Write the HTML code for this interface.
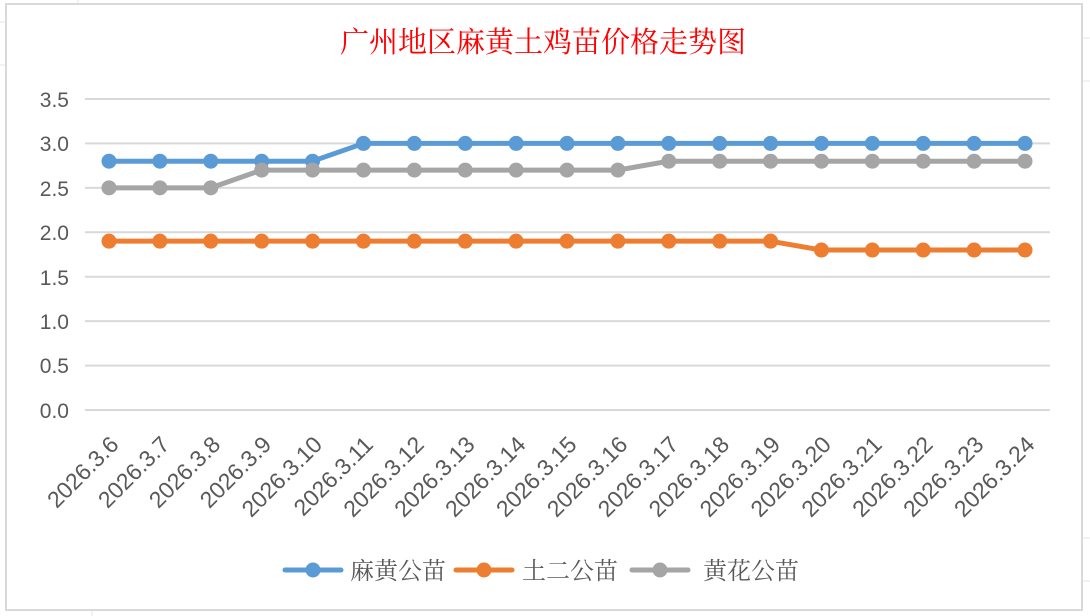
<!DOCTYPE html>
<html><head><meta charset="utf-8"><style>
html,body{margin:0;padding:0;background:#fff;}
svg{display:block;}
</style></head><body>
<svg width="1090" height="616" xmlns="http://www.w3.org/2000/svg">
<rect x="0" y="0" width="1090" height="616" fill="#fff"/>
<g stroke="#e4e4e4" stroke-width="1">
<line x1="0" y1="22" x2="6" y2="22"/><line x1="0" y1="65" x2="6" y2="65"/>
<line x1="78" y1="0" x2="78" y2="4"/><line x1="1082" y1="38" x2="1090" y2="38"/><line x1="1082" y1="81" x2="1090" y2="81"/>
<line x1="92" y1="610" x2="92" y2="616"/><line x1="1082" y1="538" x2="1090" y2="538"/><line x1="1082" y1="581" x2="1090" y2="581"/>
</g>
<rect x="6" y="4" width="1076" height="606" fill="#fff" stroke="#d9d9d9" stroke-width="2"/>
<text x="543" y="52" text-anchor="middle" font-family="Liberation Serif, 'Noto Serif CJK SC', serif" font-size="29" fill="#ff0000">广州地区麻黄土鸡苗价格走势图</text>
<g stroke="#d9d9d9" stroke-width="2">
<line x1="85" y1="99" x2="1050" y2="99"/>
<line x1="85" y1="143.4" x2="1050" y2="143.4"/>
<line x1="85" y1="187.9" x2="1050" y2="187.9"/>
<line x1="85" y1="232.3" x2="1050" y2="232.3"/>
<line x1="85" y1="276.7" x2="1050" y2="276.7"/>
<line x1="85" y1="321.1" x2="1050" y2="321.1"/>
<line x1="85" y1="365.6" x2="1050" y2="365.6"/>
<line x1="85" y1="410" x2="1050" y2="410"/>
</g>
<g font-family="Liberation Sans, sans-serif" font-size="21" fill="#595959" text-anchor="end">
<text x="69" y="107">3.5</text><text x="69" y="151">3.0</text><text x="69" y="196">2.5</text>
<text x="69" y="240">2.0</text><text x="69" y="285">1.5</text><text x="69" y="329">1.0</text>
<text x="69" y="373">0.5</text><text x="69" y="418">0.0</text>
</g>
<g id="labels" font-family="Liberation Sans, sans-serif" font-size="23" fill="#595959" text-anchor="end"></g>
<g id="series"></g>
<g>
<line x1="285" y1="570" x2="341" y2="570" stroke="#5b9bd5" stroke-width="5" stroke-linecap="round"/>
<circle cx="313" cy="570" r="7.5" fill="#5b9bd5"/>
<line x1="456" y1="570" x2="512" y2="570" stroke="#ed7d31" stroke-width="5" stroke-linecap="round"/>
<circle cx="484" cy="570" r="7.5" fill="#ed7d31"/>
<line x1="632" y1="570" x2="688" y2="570" stroke="#a5a5a5" stroke-width="5" stroke-linecap="round"/>
<circle cx="660" cy="570" r="7.5" fill="#a5a5a5"/>
<g font-family="Liberation Serif, 'Noto Serif CJK SC', serif" font-size="24" fill="#595959">
<text x="350" y="579">麻黄公苗</text><text x="522" y="579">土二公苗</text><text x="703" y="579">黄花公苗</text>
</g>
</g>
<script>
var ns="http://www.w3.org/2000/svg";
var X=function(i){return 109+i*(1025-109)/18;};
var Y=function(v){return 410-v*(311/3.5);};
var lab=document.getElementById("labels");
for(var i=0;i<19;i++){var t=document.createElementNS(ns,"text");var x=X(i)+11,y=446;
t.setAttribute("x",x);t.setAttribute("y",y);t.setAttribute("transform","rotate(-45 "+x+" "+y+")");
t.textContent="2026.3."+(6+i);lab.appendChild(t);}
var data=[
["#5b9bd5",[2.8,2.8,2.8,2.8,2.8,3,3,3,3,3,3,3,3,3,3,3,3,3,3]],
["#ed7d31",[1.9,1.9,1.9,1.9,1.9,1.9,1.9,1.9,1.9,1.9,1.9,1.9,1.9,1.9,1.8,1.8,1.8,1.8,1.8]],
["#a5a5a5",[2.5,2.5,2.5,2.7,2.7,2.7,2.7,2.7,2.7,2.7,2.7,2.8,2.8,2.8,2.8,2.8,2.8,2.8,2.8]]];
var s=document.getElementById("series");
data.forEach(function(d){var p=d[1].map(function(v,i){return X(i)+","+Y(v);}).join(" ");
var pl=document.createElementNS(ns,"polyline");pl.setAttribute("points",p);pl.setAttribute("fill","none");
pl.setAttribute("stroke",d[0]);pl.setAttribute("stroke-width","5");pl.setAttribute("stroke-linejoin","round");s.appendChild(pl);
d[1].forEach(function(v,i){var c=document.createElementNS(ns,"circle");c.setAttribute("cx",X(i));c.setAttribute("cy",Y(v));
c.setAttribute("r","7.5");c.setAttribute("fill",d[0]);s.appendChild(c);});});
</script>
</svg>
</body></html>
